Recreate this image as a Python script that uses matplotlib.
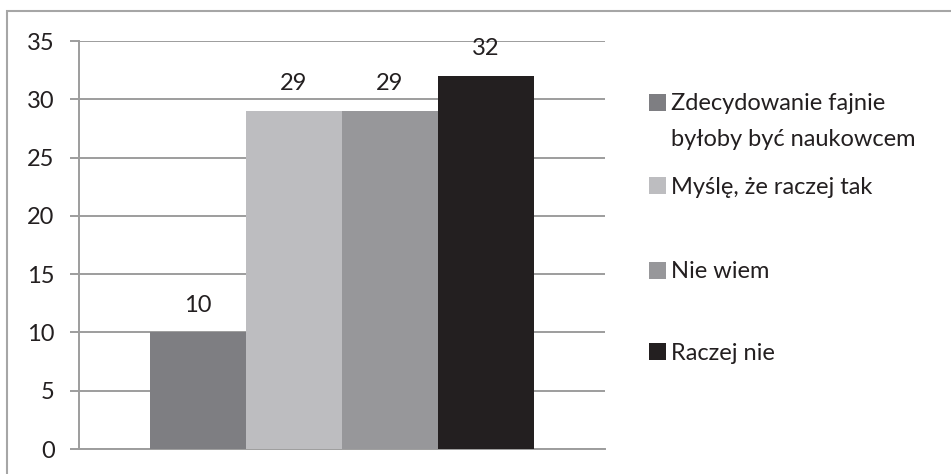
import matplotlib.pyplot as plt
from matplotlib.patches import Rectangle, Patch
import numpy as np

# dane z wykresu
categories = ["Zdecydowanie fajnie\nbyłoby być naukowcem",
              "Myślę, że raczej tak",
              "Nie wiem",
              "Raczej nie"]
values = [10, 29, 29, 32]
barColors = ["#7e7e82", "#bdbdc0", "#97979a", "#231f20"]
yTicks = [0, 5, 10, 15, 20, 25, 30, 35]

textColor = "#231f20"
gridColor = "#9d9d9d"
fontSize = 17

plt.rcParams['font.family'] = ['Lato', 'DejaVu Sans']

W, H = 951, 474
fig = plt.figure(figsize=(W / 100, H / 100), dpi=100)
fig.patch.set_facecolor("white")

# ramka wykresu (prawa i dolna krawedz poza obrazem)
fig.add_artist(Rectangle((7 / W, -0.1), 1.2, 1.1 - 11 / H, transform=fig.transFigure,
                         fill=False, edgecolor="#a6a6a6", linewidth=1.5))

ax = fig.add_axes([79 / W, 25 / H, (605 - 79) / W, (449 - 41) / H])

x = np.arange(len(values))
bars = ax.bar(x, values, width=1.0, color=barColors, zorder=3)

gap = 71 / 96
ax.set_xlim(-0.5 - gap, len(values) - 0.5 + gap)
ax.set_ylim(0, 35)
ax.set_yticks(yTicks)
ax.set_xticks([])

ax.yaxis.grid(True, color=gridColor, linewidth=1.4, zorder=0)
ax.tick_params(axis="y", direction="out", length=6.5, width=1.4, color=gridColor,
               labelsize=fontSize, labelcolor=textColor, pad=11)

for s in ["top", "right"]:
    ax.spines[s].set_visible(False)
for s in ["left", "bottom"]:
    ax.spines[s].set_color(gridColor)
    ax.spines[s].set_linewidth(1.4)

ax.bar_label(bars, labels=[str(v) for v in values], padding=12,
             fontsize=fontSize, color=textColor)

# legenda - kazdy wpis osobno, jak w Excelu (znacznik przy pierwszej linii)
legendY = [104, 187, 272, 353]
legends = []
for lab, col, yy in zip(categories, barColors, legendY):
    lines = lab.split("\n")
    leg = fig.legend(handles=[Patch(facecolor=col)], labels=[lines[0]],
                     loc="center left", bbox_to_anchor=(649 / W, 1 - yy / H),
                     frameon=False, fontsize=fontSize, handlelength=0.7,
                     handleheight=0.7, handletextpad=0.25, borderpad=0,
                     borderaxespad=0)
    for t in leg.get_texts():
        t.set_color(textColor)
    legends.append((leg, lines[1:], yy))

fig.canvas.draw()
for leg, rest, yy in legends:
    t0 = leg.get_texts()[0]
    x0 = t0.get_window_extent().x0
    for i, line in enumerate(rest):
        fig.text(x0 / W, 1 - (yy + 36 * (i + 1)) / H, line, fontsize=fontSize,
                 color=textColor, va="center", ha="left")

fig.savefig("out.png", dpi=100)
